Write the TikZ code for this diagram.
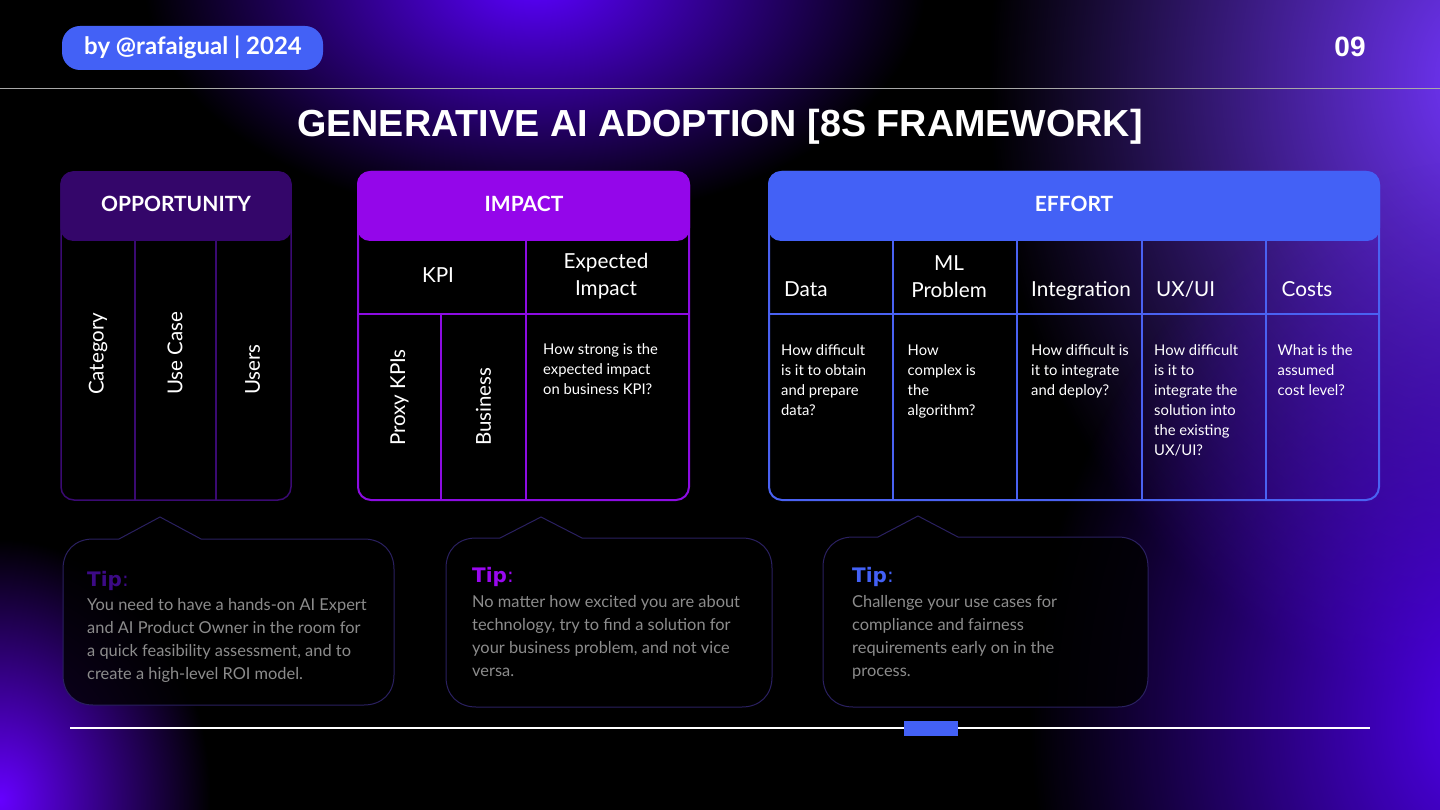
\documentclass[tikz,border=0pt]{standalone}
\usepackage{fontspec}
\setmainfont{Lato}
\newfontfamily\titlefont{Liberation Sans}
\newfontfamily\tipfont{DejaVu Sans}
\usetikzlibrary{fadings}

\definecolor{glowA}{HTML}{5A00FF}
\definecolor{glowB}{HTML}{7436FF}
\definecolor{glowC}{HTML}{5000F0}
\definecolor{glowD}{HTML}{6600FF}
\definecolor{pillblue}{HTML}{4361F6}
\definecolor{opphead}{HTML}{34066A}
\definecolor{oppline}{HTML}{3A0A72}
\definecolor{imphead}{HTML}{9406EA}
\definecolor{impline}{HTML}{8C0CE2}
\definecolor{effhead}{HTML}{4361F6}
\definecolor{effline}{HTML}{4A62F2}
\definecolor{tipone}{HTML}{3C0A86}
\definecolor{tiptwo}{HTML}{9A08F0}
\definecolor{tipthree}{HTML}{4361F6}
\definecolor{tipline}{HTML}{2A2060}
\definecolor{tiptext}{HTML}{8C8C8C}
\definecolor{sepline}{HTML}{A8A8A8}

\tikzfading[name=glowfade, inner color=transparent!0, outer color=transparent!100]

\tikzset{
 glow/.style={path fading=glowfade},
 headtitle/.style={text=white, font=\fontsize{21}{25}\selectfont\bfseries, inner sep=0pt},
 collabel/.style={text=white, font=\fontsize{20.7}{27.5}\selectfont, inner sep=0pt},
 vlabel/.style={text=white, font=\fontsize{20.5}{24}\selectfont, rotate=90, anchor=west, inner sep=0pt},
 desc/.style={text=white, font=\fontsize{14.8}{20}\selectfont, align=left, anchor=base west, inner sep=0pt},
 tiptitle/.style={font=\tipfont\fontsize{20}{24}\selectfont, anchor=base west, inner sep=0pt},
 tipbody/.style={text=tiptext, font=\fontsize{16.4}{23.3}\selectfont, align=left, anchor=base west, inner sep=0pt},
 tipbox/.style={draw=tipline, line width=1pt, fill=black, fill opacity=0.8},
 tabline/.style={line width=2pt},
}

\begin{document}
\begin{tikzpicture}[x=1pt,y=-1pt]
\useasboundingbox (0,0) rectangle (1440,810);
\fill[black] (0,0) rectangle (1440,810);
\begin{scope}
\clip (0,0) rectangle (1440,810);
\fill[glowA, glow] (535-390,-20-240) rectangle (535+390,-20+240);
\fill[glowB, glow] (1490-500,80-620) rectangle (1490+500,80+620);
\fill[glowC, glow] (1490-460,720-560) rectangle (1490+460,720+560);
\fill[glowD, glow] (-210,800-260) rectangle (210,800+260);
\end{scope}

% header
\fill[pillblue, rounded corners=18pt] (62,26) rectangle (323,70);
\node[anchor=base, text=white, font=\fontsize{24}{28}\selectfont\bfseries, inner sep=0pt] (byline) at (193,55) {by @rafaigual | 2024};
\node[anchor=base, text=white, font=\titlefont\fontsize{28}{32}\selectfont\bfseries, inner sep=0pt] (page) at (1350,56.7) {09};
\draw[sepline, line width=1pt] (0,88.7) -- (1440,88.7);
\node[anchor=base, text=white, font=\titlefont\fontsize{37.7}{42}\selectfont\bfseries, inner sep=0pt] (title) at (720,136.7) {GENERATIVE AI ADOPTION [8S FRAMEWORK]};

% OPPORTUNITY
\draw[oppline, line width=1.5pt, rounded corners=13pt] (61,172) rectangle (291,500);
\draw[oppline, line width=1.5pt] (135,240) -- (135,500) (216,240) -- (216,500);
\fill[opphead, rounded corners=13pt] (60.25,171.25) rectangle (291.75,241);
\node[headtitle] (opp) at (176,204) {OPPORTUNITY};
\node[vlabel] (cat) at (98,395) {Category};
\node[vlabel] (usecase) at (175,395) {Use Case};
\node[vlabel] (users) at (252.5,395) {Users};

% IMPACT
\draw[impline, tabline, rounded corners=13pt] (358,172) rectangle (689,500);
\draw[impline, tabline] (358,314) -- (689,314) (526,240) -- (526,500) (441,314) -- (441,500);
\fill[imphead, rounded corners=13pt] (357,171) rectangle (690,241);
\node[headtitle] (imp) at (524,204) {IMPACT};
\node[collabel, anchor=base] (kpi) at (438,282.7) {KPI};
\node[collabel, anchor=base, align=center] (expimp) at (606,296) {Expected\\Impact};
\node[vlabel] (proxy) at (399.5,446) {Proxy KPIs};
\node[vlabel] (business) at (483.5,446) {Business};
\node[desc] (impdesc) at (543,394) {How strong is the\\expected impact\\on business KPI?};

% EFFORT
\draw[effline, tabline, rounded corners=13pt] (769,172) rectangle (1379,500);
\draw[effline, tabline] (769,314) -- (1379,314) (893,240) -- (893,500) (1017,240) -- (1017,500) (1141.5,240) -- (1141.5,500) (1265.5,240) -- (1265.5,500);
\fill[effhead, rounded corners=13pt] (768,171) rectangle (1380,241);
\node[headtitle] (eff) at (1074,204) {EFFORT};
\node[collabel, anchor=base west] (data) at (784,297) {Data};
\node[collabel, anchor=base, align=center] (ml) at (949,298) {ML\\Problem};
\node[collabel, anchor=base west] (integ) at (1031,297) {Integration};
\node[collabel, anchor=base west] (uxui) at (1156,297) {UX/UI};
\node[collabel, anchor=base west] (costs) at (1281.5,297) {Costs};
\node[desc] (datadesc) at (781,415) {How difficult\\is it to obtain\\and prepare\\data?};
\node[desc] (mldesc) at (907.5,415) {How\\complex is\\the\\algorithm?};
\node[desc] (integdesc) at (1031,395) {How difficult is\\it to integrate\\and deploy?};
\node[desc] (uxdesc) at (1154,455) {How difficult\\is it to\\integrate the\\solution into\\the existing\\UX/UI?};
\node[desc] (costdesc) at (1277.5,395) {What is the\\assumed\\cost level?};

% TIP boxes
\draw[tipbox] (93,539) -- (119,539) -- (160,517) -- (201,539) -- (364,539) .. controls (382,539) and (394,551) .. (394,569) -- (394,675) .. controls (394,693) and (382,705) .. (364,705) -- (93,705) .. controls (75,705) and (63,693) .. (63,675) -- (63,569) .. controls (63,551) and (75,539) .. (93,539) -- cycle;
\draw[tipbox] (476,538) -- (500,538) -- (541,517) -- (582,538) -- (742,538) .. controls (760,538) and (772,550) .. (772,568) -- (772,677) .. controls (772,695) and (760,707) .. (742,707) -- (476,707) .. controls (458,707) and (446,695) .. (446,677) -- (446,568) .. controls (446,550) and (458,538) .. (476,538) -- cycle;
\draw[tipbox] (853,537) -- (878,537) -- (918,516) -- (958,537) -- (1118,537) .. controls (1136,537) and (1148,549) .. (1148,567) -- (1148,677) .. controls (1148,695) and (1136,707) .. (1118,707) -- (853,707) .. controls (835,707) and (823,695) .. (823,677) -- (823,567) .. controls (823,549) and (835,537) .. (853,537) -- cycle;

\node[tiptitle, text=tipone] (tipa) at (87,586) {\textbf{Tip}:};
\node[tipbody] (tipatext) at (87,679.9) {You need to have a hands-on AI Expert\\and AI Product Owner in the room for\\a quick feasibility assessment, and to\\create a high-level ROI model.};
\node[tiptitle, text=tiptwo] (tipb) at (472,582.7) {\textbf{Tip}:};
\node[tipbody] (tipbtext) at (472,676.9) {No matter how excited you are about\\technology, try to find a solution for\\your business problem, and not vice\\versa.};
\node[tiptitle, text=tipthree] (tipc) at (852,582) {\textbf{Tip}:};
\node[tipbody] (tipctext) at (852,676.9) {Challenge your use cases for\\compliance and fairness\\requirements early on in the\\process.};

% bottom
\draw[white, line width=2pt] (70,728) -- (1370,728);
\fill[pillblue] (903.5,720.5) rectangle (958,735.5);
\end{tikzpicture}
\end{document}
